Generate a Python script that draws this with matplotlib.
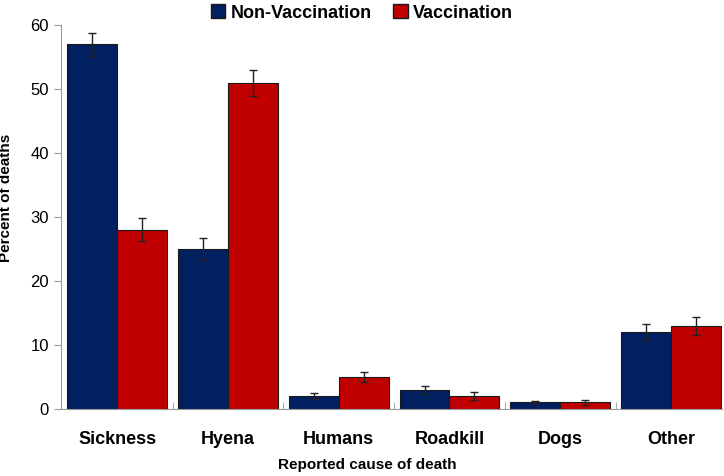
import numpy as np
import matplotlib.pyplot as plt
from matplotlib.patches import Patch

plt.rcParams['font.family'] = ['Liberation Sans', 'DejaVu Sans']

causes = ['Sickness', 'Hyena', 'Humans', 'Roadkill', 'Dogs', 'Other']
non_vacc = [57, 25, 2, 3, 1, 12]
non_vacc_err = [1.8, 1.7, 0.5, 0.6, 0.3, 1.3]
vacc = [28, 51, 5, 2, 1, 13]
vacc_err = [1.8, 2.0, 0.8, 0.6, 0.4, 1.4]

navy = '#002060'
red = '#C00000'

fig = plt.figure(figsize=(7.24, 4.76), dpi=100)
ax = fig.add_axes([0.084, 0.141, 0.913, 0.806])

x = np.arange(len(causes))
w = 0.45
ekw = dict(ecolor='#222222', elinewidth=1, capsize=3, capthick=1)
ax.bar(x - w / 2, non_vacc, w, yerr=non_vacc_err, color=navy,
       edgecolor='#1a1a1a', linewidth=0.8, error_kw=ekw, label='Non-Vaccination')
ax.bar(x + w / 2, vacc, w, yerr=vacc_err, color=red,
       edgecolor='#1a1a1a', linewidth=0.8, error_kw=ekw, label='Vaccination')

ax.set_xlim(-0.51, len(causes) - 0.54)
ax.set_ylim(0, 60)
ax.set_yticks([0, 10, 20, 30, 40, 50, 60])
ax.set_xticks(x)
ax.set_xticklabels(causes, fontsize=13, fontweight='bold')
ax.set_xticks(np.arange(0.5, len(causes) - 0.5), minor=True)
ax.tick_params(axis='x', which='major', length=0, pad=16)
ax.tick_params(axis='x', which='minor', direction='in', length=5, color='#999999')
ax.tick_params(axis='y', labelsize=12, color='#999999', length=5)

for s in ['top', 'right']:
    ax.spines[s].set_visible(False)
for s in ['left', 'bottom']:
    ax.spines[s].set_color('#999999')

ax.set_ylabel('Percent of deaths', fontsize=11, fontweight='bold')
ax.set_xlabel('Reported cause of death', fontsize=11, fontweight='bold')
ax.yaxis.set_label_coords(-0.072, 0.549)
ax.xaxis.set_label_coords(0.464, -0.127)

handles = [Patch(facecolor=navy, edgecolor='#1a1a1a'), Patch(facecolor=red, edgecolor='#1a1a1a')]
fig.legend(handles, ['Non-Vaccination', 'Vaccination'], loc='upper center',
           bbox_to_anchor=(0.5, 1.025), ncol=2, frameon=False,
           prop={'size': 13, 'weight': 'bold'}, handlelength=0.8, handleheight=0.8,
           handletextpad=0.3, columnspacing=1.2)

fig.savefig('out.png', dpi=100)
